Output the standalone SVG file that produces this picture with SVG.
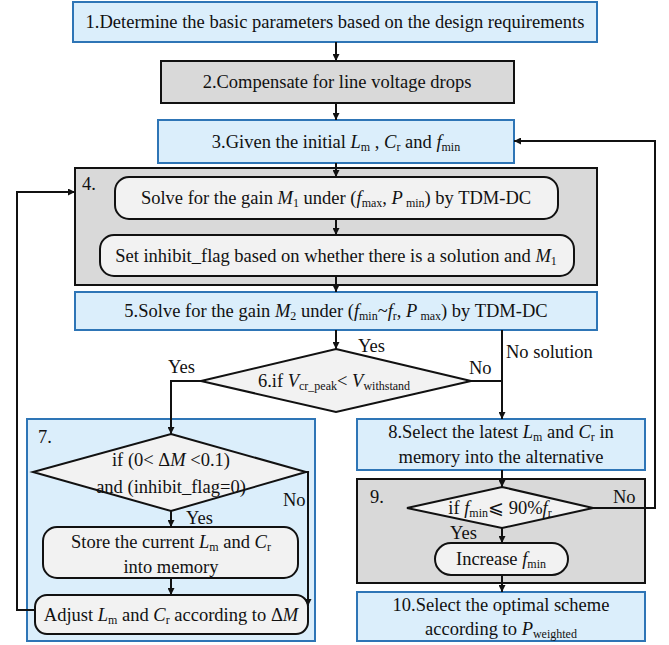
<svg xmlns="http://www.w3.org/2000/svg" width="669" height="645" viewBox="0 0 669 645" font-family="'Liberation Serif', 'Times New Roman', serif" font-size="18.5">
<style>
text{font-family:"Liberation Serif","Times New Roman",serif;font-size:18.5px;fill:#111;}
.c{text-anchor:middle;}
.i{font-style:italic;}
.s{font-size:12px;font-style:normal;}
.blue{fill:#dbeefb;stroke:#2e75b6;stroke-width:2;}
.gray{fill:#d9d9d9;stroke:#111;stroke-width:2;}
.light{fill:#f2f2f2;stroke:#111;stroke-width:2;}
.ln{fill:none;stroke:#111;stroke-width:2;}
</style>
<defs>
<marker id="ah" viewBox="0 0 10 10" refX="10" refY="5" markerWidth="7" markerHeight="7" markerUnits="userSpaceOnUse" orient="auto">
<path d="M0,0 L10,5 L0,10 z" fill="#111"/>
</marker>
</defs>
<rect width="669" height="645" fill="#fff"/>

<g id="n1"><rect class="blue" x="73" y="2" width="524" height="40"/>
<text class="c" x="335" y="28">1.Determine the basic parameters based on the design requirements</text></g>

<g id="n2"><rect class="gray" x="161" y="61" width="353" height="42"/>
<text class="c" x="337" y="88">2.Compensate for line voltage drops</text></g>

<g id="n3"><rect class="blue" x="158" y="120" width="356" height="43"/>
<text class="c" x="336" y="148">3.Given the initial <tspan class="i">L</tspan><tspan class="s" dy="3">m</tspan><tspan dy="-3"> , </tspan><tspan class="i">C</tspan><tspan class="s" dy="3">r</tspan><tspan dy="-3"> and </tspan><tspan class="i">f</tspan><tspan class="s" dy="3">min</tspan></text></g>

<g id="n4"><rect class="gray" x="75" y="168" width="522" height="117"/>
<text x="82" y="190">4.</text>
<rect class="light" x="115" y="177" width="443" height="42" rx="14"/>
<text class="c" x="336" y="204">Solve for the gain <tspan class="i">M</tspan><tspan class="s" dy="3">1</tspan><tspan dy="-3"> under (</tspan><tspan class="i">f</tspan><tspan class="s" dy="3">max</tspan><tspan dy="-3">, </tspan><tspan class="i">P</tspan><tspan class="s" dy="3"> min</tspan><tspan dy="-3">) by TDM-DC</tspan></text>
<rect class="light" x="100" y="235" width="474" height="41" rx="14"/>
<text class="c" x="336" y="262">Set inhibit_flag based on whether there is a solution and <tspan class="i">M</tspan><tspan class="s" dy="3">1</tspan></text></g>

<g id="n5"><rect class="blue" x="75" y="292" width="522" height="38"/>
<text class="c" x="336" y="317">5.Solve for the gain <tspan class="i">M</tspan><tspan class="s" dy="3">2</tspan><tspan dy="-3"> under (</tspan><tspan class="i">f</tspan><tspan class="s" dy="3">min</tspan><tspan dy="-3">~</tspan><tspan class="i">f</tspan><tspan class="s" dy="3">r</tspan><tspan dy="-3">, </tspan><tspan class="i">P</tspan><tspan class="s" dy="3"> max</tspan><tspan dy="-3">) by TDM-DC</tspan></text></g>

<g id="n6"><polygon class="light" points="336,349 471,381 336,412 201,381"/>
<text class="c" x="334" y="387">6.if <tspan class="i">V</tspan><tspan class="s" dy="3">cr_peak</tspan><tspan dy="-3">&lt; </tspan><tspan class="i">V</tspan><tspan class="s" dy="3">withstand</tspan></text></g>

<g id="n7"><rect class="blue" x="27" y="419" width="288" height="222"/>
<text x="38" y="443">7.</text>
<polygon class="light" points="171,434 306,472 171,511 33,472"/>
<text class="c" x="171" y="466">if (0&lt; Δ<tspan class="i">M</tspan> &lt;0.1)</text>
<text class="c" x="171" y="493">and (inhibit_flag=0)</text>
<rect class="light" x="43" y="527" width="255" height="51" rx="14"/>
<text class="c" x="171" y="548">Store the current <tspan class="i">L</tspan><tspan class="s" dy="3">m</tspan><tspan dy="-3"> and </tspan><tspan class="i">C</tspan><tspan class="s" dy="3">r</tspan></text>
<text class="c" x="171" y="573">into memory</text>
<rect class="light" x="35" y="595" width="273" height="39" rx="12"/>
<text class="c" x="171" y="621">Adjust <tspan class="i">L</tspan><tspan class="s" dy="3">m</tspan><tspan dy="-3">  and </tspan><tspan class="i">C</tspan><tspan class="s" dy="3">r</tspan><tspan dy="-3"> according to  Δ</tspan><tspan class="i">M</tspan></text></g>

<g id="n8"><rect class="blue" x="357" y="419" width="288" height="51"/>
<text class="c" x="501" y="438">8.Select the latest <tspan class="i">L</tspan><tspan class="s" dy="3">m</tspan><tspan dy="-3"> and </tspan><tspan class="i">C</tspan><tspan class="s" dy="3">r</tspan><tspan dy="-3"> in</tspan></text>
<text class="c" x="501" y="463">memory into the alternative</text></g>

<g id="n9"><rect class="gray" x="357" y="479" width="288" height="104"/>
<text x="370" y="503">9.</text>
<polygon class="light" points="502,487 593,508 502,528 407,508"/>
<text class="c" x="500" y="514">if <tspan class="i">f</tspan><tspan class="s" dy="3">min</tspan><tspan dy="-3">⩽ 90%</tspan><tspan class="i">f</tspan><tspan class="s" dy="3">r</tspan></text>
<rect class="light" x="435" y="543" width="133" height="32" rx="16"/>
<text class="c" x="501" y="565">Increase  <tspan class="i">f</tspan><tspan class="s" dy="3">min</tspan></text></g>

<g id="n10"><rect class="blue" x="357" y="592" width="288" height="49"/>
<text class="c" x="501" y="611">10.Select the optimal scheme</text>
<text class="c" x="501" y="635">according to <tspan class="i">P</tspan><tspan class="s" dy="3">weighted</tspan></text></g>

<g id="connectors">
<line class="ln" x1="336" y1="42" x2="336" y2="61" marker-end="url(#ah)"/>
<line class="ln" x1="336" y1="103" x2="336" y2="120" marker-end="url(#ah)"/>
<line class="ln" x1="336" y1="163" x2="336" y2="177" marker-end="url(#ah)"/>
<line class="ln" x1="336" y1="219" x2="336" y2="235" marker-end="url(#ah)"/>
<line class="ln" x1="336" y1="276" x2="336" y2="292" marker-end="url(#ah)"/>
<line class="ln" x1="336" y1="330" x2="336" y2="349" marker-end="url(#ah)"/>
<polyline class="ln" points="201,381 171,381 171,434" marker-end="url(#ah)"/>
<polyline class="ln" points="471,381 502,381"/>
<line class="ln" x1="502" y1="330" x2="502" y2="419" marker-end="url(#ah)"/>
<line class="ln" x1="171" y1="511" x2="171" y2="527" marker-end="url(#ah)"/>
<line class="ln" x1="171" y1="578" x2="171" y2="595" marker-end="url(#ah)"/>
<polyline class="ln" points="306,472 308,472 308,606" marker-end="url(#ah)"/>
<polyline class="ln" points="35,610 17,610 17,192 75,192" marker-end="url(#ah)"/>
<line class="ln" x1="502" y1="470" x2="502" y2="487" marker-end="url(#ah)"/>
<line class="ln" x1="502" y1="528" x2="502" y2="543" marker-end="url(#ah)"/>
<line class="ln" x1="502" y1="575" x2="502" y2="592" marker-end="url(#ah)"/>
<polyline class="ln" points="593,508 655,508 655,141 514,141" marker-end="url(#ah)"/>
<text x="358" y="352">Yes</text>
<text x="168" y="373">Yes</text>
<text x="469" y="374">No</text>
<text x="506" y="358">No solution</text>
<text x="283" y="506">No</text>
<text x="186" y="524">Yes</text>
<text x="613" y="503">No</text>
<text x="450" y="539">Yes</text>
</g>
</svg>
